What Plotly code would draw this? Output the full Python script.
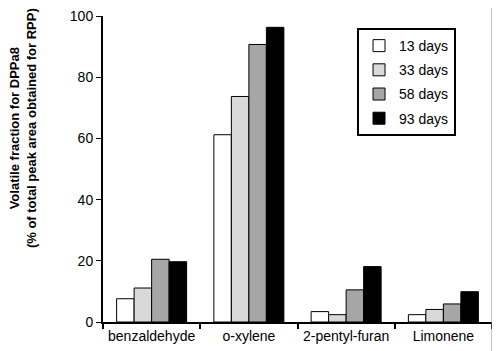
import plotly.graph_objects as go

categories = ["benzaldehyde", "o-xylene", "2-pentyl-furan", "Limonene"]
series_names = ["13 days", "33 days", "58 days", "93 days"]
d13 = [7.6, 61.2, 3.4, 2.4]
d33 = [11.1, 73.7, 2.4, 4.1]
d58 = [20.5, 90.7, 10.5, 5.9]
d93 = [19.7, 96.3, 18.1, 9.9]
y_ticks = [0, 20, 40, 60, 80, 100]

colors = ["#ffffff", "#d9d9d9", "#a6a6a6", "#000000"]
values = [d13, d33, d58, d93]

fig = go.Figure()
for name, vals, c in zip(series_names, values, colors):
    fig.add_trace(go.Bar(x=categories, y=vals, name=name, legendgroup=name,
                         marker=dict(color=c, line=dict(color="black", width=1))))

fig.update_layout(
    width=492, height=343,
    margin=dict(l=95, r=8, t=8, b=29),
    paper_bgcolor="white", plot_bgcolor="white",
    font=dict(family="Liberation Sans, Arial, sans-serif", size=14, color="black"),
    barmode="group", bargap=0.28, bargroupgap=0,
    showlegend=True,
    legend=dict(x=0.653, y=0.9607, xanchor="left", yanchor="top",
                bgcolor="white", bordercolor="black", borderwidth=2,
                font=dict(size=14), tracegroupgap=3, itemwidth=30),
    xaxis=dict(showline=True, linecolor="black", linewidth=2, automargin=False,
               ticks="outside", tickson="boundaries", ticklen=5, tickwidth=2,
               tickcolor="black", showgrid=False, tickfont=dict(size=14), tickangle=0),
    yaxis=dict(range=[0, 100], tickvals=y_ticks, showline=True, linecolor="black",
               linewidth=2, ticks="outside", ticklen=5, tickwidth=1, tickcolor="black",
               showgrid=False, zeroline=False, tickfont=dict(size=14), automargin=False,
               ticklabeloverflow="allow"),
)

fig.add_annotation(text="<b>Volatile fraction for DPPa8<br>(% of total peak area obtained for RPP)</b>",
                   xref="paper", yref="paper", x=-0.2057, y=0.6336,
                   xanchor="center", yanchor="middle", textangle=-90, showarrow=False,
                   font=dict(size=13, color="black"))

fig.add_shape(type="line", xref="paper", yref="paper", x0=1.0, x1=1.0, y0=-0.2, y1=1.1,
              line=dict(color="#888888", width=1))

fig.write_html("out.html")
